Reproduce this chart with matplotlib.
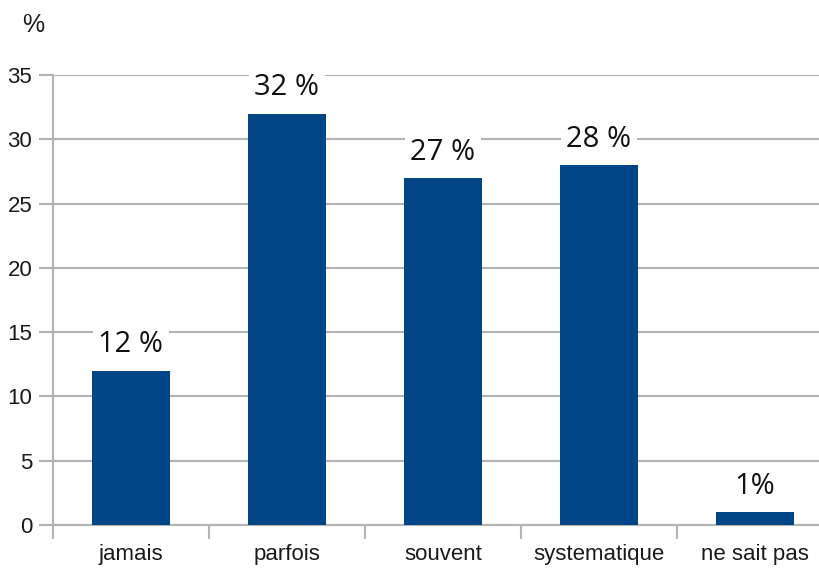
import matplotlib
matplotlib.use("Agg")
import matplotlib.pyplot as plt

categories = ["jamais", "parfois", "souvent", "systematique", "ne sait pas"]
values = [12, 32, 27, 28, 1]
bar_labels = ["12 %", "32 %", "27 %", "28 %", "1%"]
y_ticks = [0, 5, 10, 15, 20, 25, 30, 35]

plt.rcParams['font.family'] = ['Liberation Sans', 'DejaVu Sans']

fig = plt.figure(figsize=(8.19, 5.70), dpi=100)
ax = fig.add_axes([53/819, 45/570, 780/819, 450/570])

x = list(range(len(categories)))
bars = ax.bar(x, values, width=0.5, color="#004586", zorder=3)

ax.set_xlim(-0.5, len(categories) - 0.5)
ax.set_ylim(0, 35)
ax.set_yticks(y_ticks)
ax.set_yticklabels([str(t) for t in y_ticks], fontsize=16, color="#1a1a1a")
ax.yaxis.grid(True, color="#b3b3b3", linewidth=1.5, zorder=0)

ax.set_xticks(x)
ax.set_xticklabels(categories, fontsize=16, color="#1a1a1a")
ax.tick_params(axis='x', length=0, pad=14)
ax.tick_params(axis='y', length=10, width=1.5, color="#b3b3b3", pad=5)
# category separators
ax.set_xticks([i + 0.5 for i in range(len(categories) - 1)] + [-0.5], minor=True)
ax.tick_params(axis='x', which='minor', length=10, width=1.5, color="#b3b3b3")

for s in ["top", "right"]:
    ax.spines[s].set_visible(False)
ax.spines["left"].set_color("#b3b3b3")
ax.spines["left"].set_linewidth(1.5)
ax.spines["bottom"].set_color("#b3b3b3")
ax.spines["bottom"].set_linewidth(1.5)

for xi, v, lab in zip(x, values, bar_labels):
    ax.text(xi, v + 2.0, lab, ha="center", va="center", fontsize=21,
            family=["Open Sans", "DejaVu Sans"], color="#111111", zorder=4,
            bbox=dict(facecolor="white", edgecolor="none", pad=4))

fig.text(33/819, 1 - 25/570, "%", ha="center", va="center", fontsize=18, color="#1a1a1a")

fig.savefig("out.png", dpi=100)
